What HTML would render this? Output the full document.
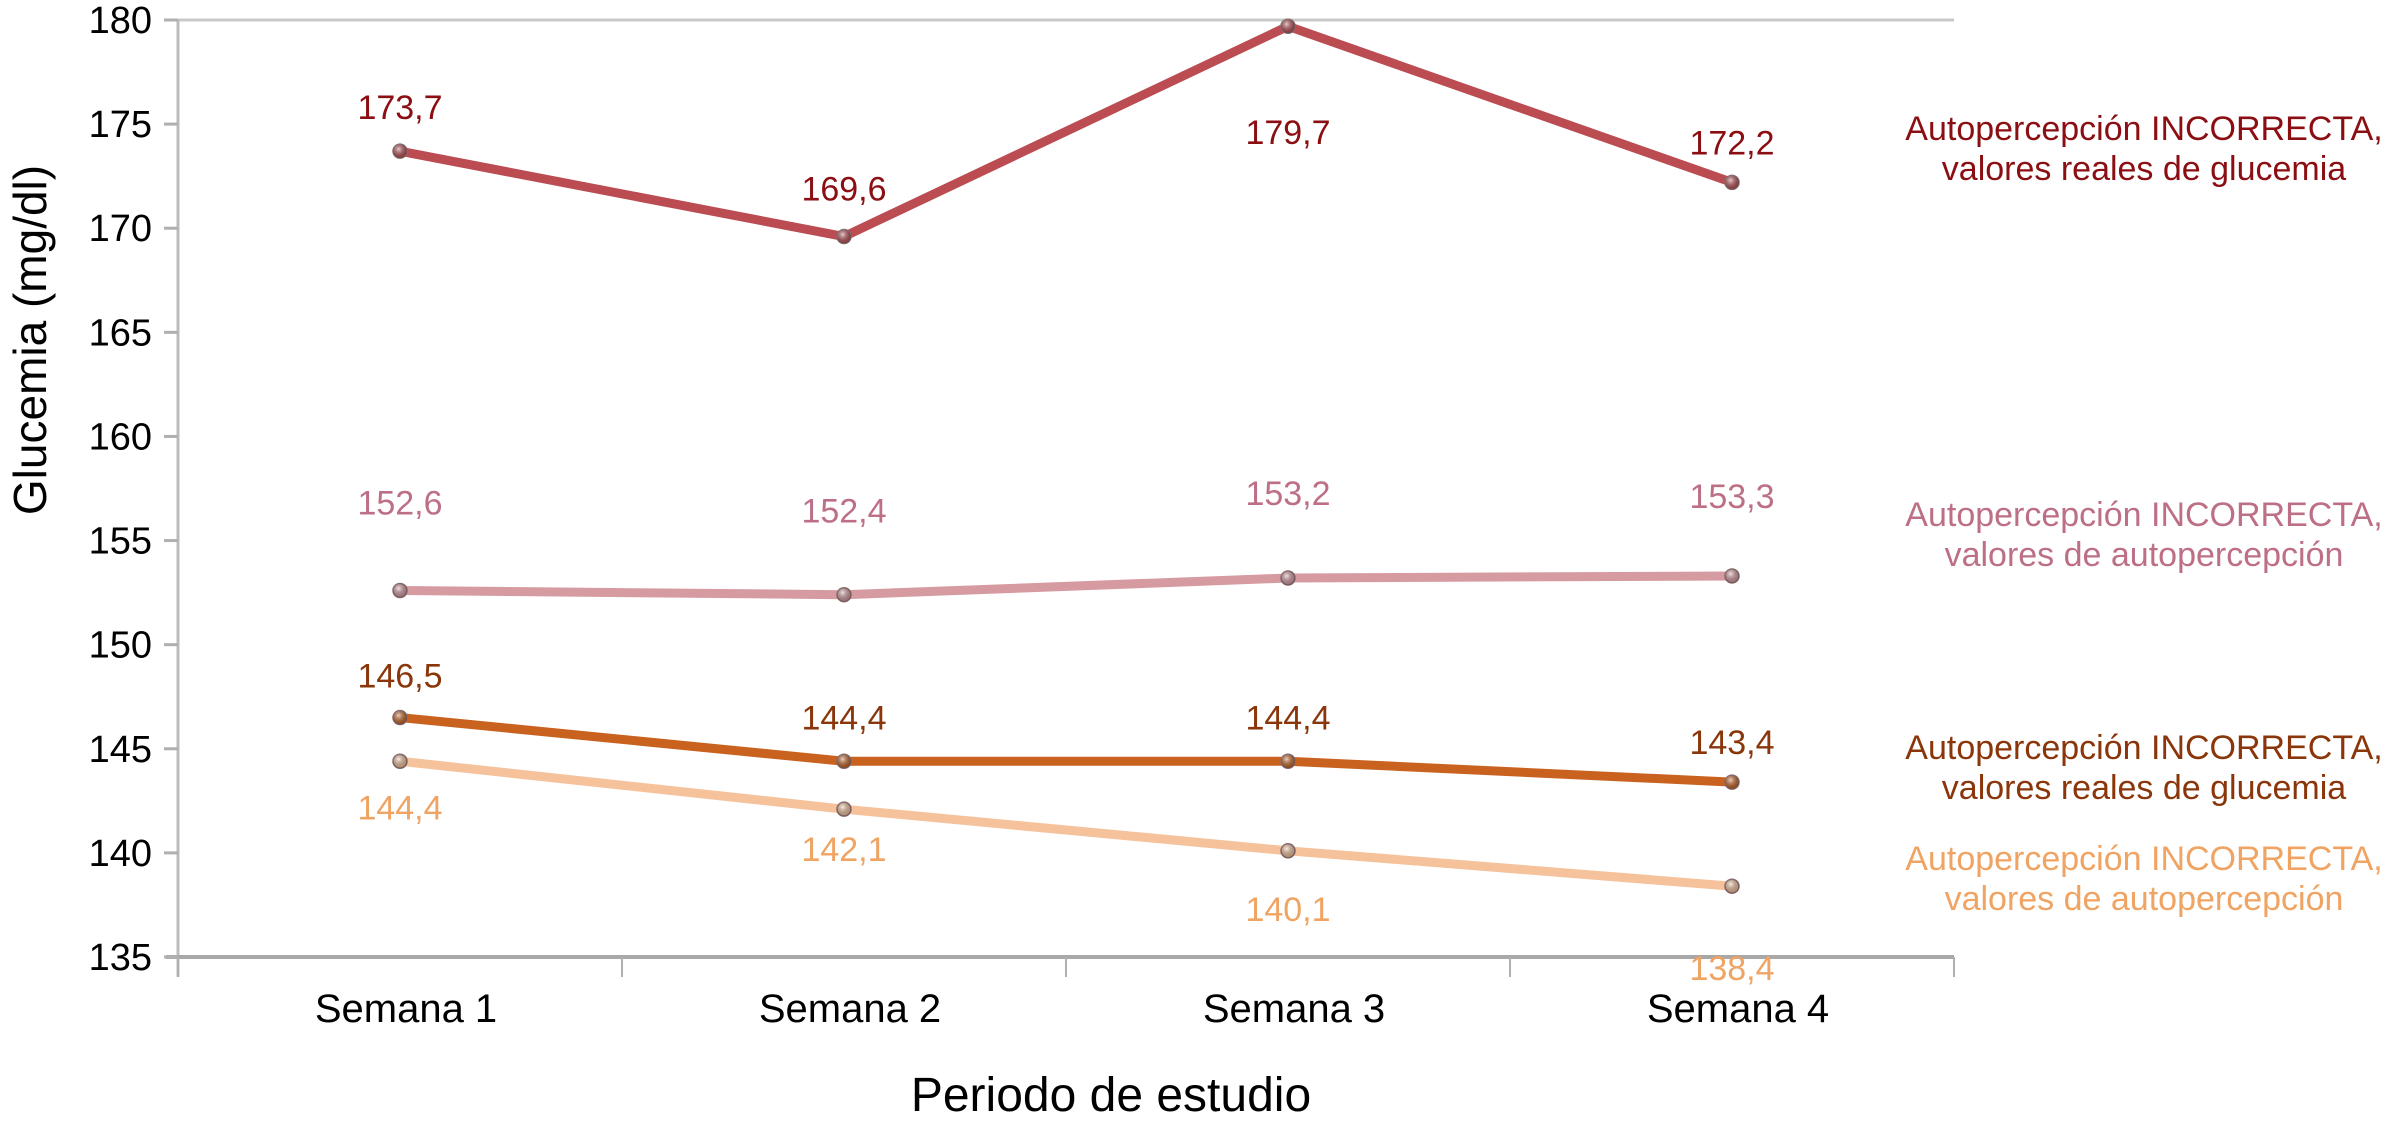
<!DOCTYPE html>
<html><head><meta charset="utf-8"><style>
html,body{margin:0;padding:0;background:#fff;}
svg{display:block;font-family:"Liberation Sans",Arial,sans-serif;}
</style></head><body>
<svg id="chart" width="2387" height="1124" viewBox="0 0 2387 1124" xmlns="http://www.w3.org/2000/svg">
<defs>
<radialGradient id="mk" cx="40%" cy="35%" r="65%"><stop offset="0" stop-color="#fff" stop-opacity="0.7"/><stop offset="1" stop-color="#000" stop-opacity="0.25"/></radialGradient>
</defs>
<g id="axes"></g>
<g id="series"></g>
<g id="legend"></g>
<text transform="translate(46,340) rotate(-90)" text-anchor="middle" font-size="46" fill="#000">Glucemia (mg/dl)</text>
<text x="1111" y="1111" text-anchor="middle" font-size="48" fill="#000">Periodo de estudio</text>
</svg>
<script>
const categories = ["Semana 1","Semana 2","Semana 3","Semana 4"];
const yTicks = [135,140,145,150,155,160,165,170,175,180];
const realIncorrect = [173.7,169.6,179.7,172.2];
const perceivedIncorrect = [152.6,152.4,153.2,153.3];
const realCorrect = [146.5,144.4,144.4,143.4];
const perceivedCorrect = [144.4,142.1,140.1,138.4];
const valueLabels1 = ["173,7","169,6","179,7","172,2"];
const valueLabels2 = ["152,6","152,4","153,2","153,3"];
const valueLabels3 = ["146,5","144,4","144,4","143,4"];
const valueLabels4 = ["144,4","142,1","140,1","138,4"];
const legendLines = ["Autopercepción INCORRECTA,","valores reales de glucemia","Autopercepción INCORRECTA,","valores de autopercepción","Autopercepción INCORRECTA,","valores reales de glucemia","Autopercepción INCORRECTA,","valores de autopercepción"];

const NS="http://www.w3.org/2000/svg";
const X0=178, X1=1954, Y0=957, Y1=20, YMIN=135, YMAX=180;
const band=(X1-X0)/categories.length;
function xs(i){return X0+band*(i+0.5);}
function ys(v){return Y0-(v-YMIN)/(YMAX-YMIN)*(Y0-Y1);}
function mk(tag,attrs,parent){const e=document.createElementNS(NS,tag);for(const k in attrs)e.setAttribute(k,attrs[k]);parent.appendChild(e);return e;}
const axes=document.getElementById('axes');
let t=mk('line',{x1:X0,y1:Y1,x2:X1,y2:Y1,stroke:'#c8c8c8','stroke-width':3},axes);


let ya=mk('line',{x1:X0,y1:Y1,x2:X0,y2:Y0+20,stroke:'#bcbcbc','stroke-width':3},axes);


let xa=mk('line',{x1:X0-12,y1:Y0,x2:X1,y2:Y0,stroke:'#a8a8a8','stroke-width':4},axes);


yTicks.forEach(v=>{
  const tk=mk('line',{x1:X0-14,y1:ys(v),x2:X0,y2:ys(v),stroke:'#b0b0b0','stroke-width':3},axes);
  
  
  const tl=mk('text',{x:X0-26,y:ys(v)+13,'text-anchor':'end','font-size':38,fill:'#000'},axes);
  tl.textContent=String(v);
  
  
});
for(let i=0;i<=categories.length;i++){
  const tk=mk('line',{x1:X0+band*i,y1:Y0,x2:X0+band*i,y2:Y0+20,stroke:'#b0b0b0','stroke-width':2},axes);
  
  
}
categories.forEach((c,i)=>{
  const tl=mk('text',{x:xs(i)+6,y:1022,'text-anchor':'middle','font-size':40,fill:'#000'},axes);
  tl.textContent=c;
  
  
});
const seriesDefs=[
 {name:'real-incorrect',data:realIncorrect,labels:valueLabels1,line:'#bb4c52',text:'#8a0e12',off:[-32,-36,118,-28]},
 {name:'perceived-incorrect',data:perceivedIncorrect,labels:valueLabels2,line:'#d69aa1',text:'#bd7085',off:[-76,-72,-73,-68]},
 {name:'real-correct',data:realCorrect,labels:valueLabels3,line:'#c8621e',text:'#8a360a',off:[-30,-32,-32,-28]},
 {name:'perceived-correct',data:perceivedCorrect,labels:valueLabels4,line:'#f5c29c',text:'#f0a463',off:[58,52,70,94]}
];
const sg=document.getElementById('series');
seriesDefs.forEach(s=>{
  const g=mk('g',{},sg);
  
  
  const pts=s.data.map((v,i)=>xs(i)+','+ys(v)).join(' ');
  const pl=mk('polyline',{points:pts,fill:'none',stroke:s.line,'stroke-width':9,'stroke-linejoin':'round','stroke-linecap':'round'},g);
  
  
  s.data.forEach((v,i)=>{
    const c=mk('circle',{cx:xs(i),cy:ys(v),r:7,fill:s.line,stroke:'#8a6a6a','stroke-width':1.5},g);
    
    
    const c2=mk('circle',{cx:xs(i),cy:ys(v),r:7,fill:'url(#mk)'},g);
    
    
    const tl=mk('text',{x:xs(i),y:ys(v)+s.off[i],'text-anchor':'middle','font-size':34,fill:s.text},g);
    tl.textContent=s.labels[i];
    
    
  });
});
const lg=document.getElementById('legend');
const legendY=[140,180,526,566,759,799,870,910];
const legendC=['#8a0e12','#8a0e12','#bd7085','#bd7085','#8a360a','#8a360a','#f0a463','#f0a463'];
legendLines.forEach((txt,i)=>{
  const tl=mk('text',{x:2144,y:legendY[i],'text-anchor':'middle','font-size':34,fill:legendC[i]},lg);
  tl.textContent=txt;
  
  
});
</script>
</body></html>
